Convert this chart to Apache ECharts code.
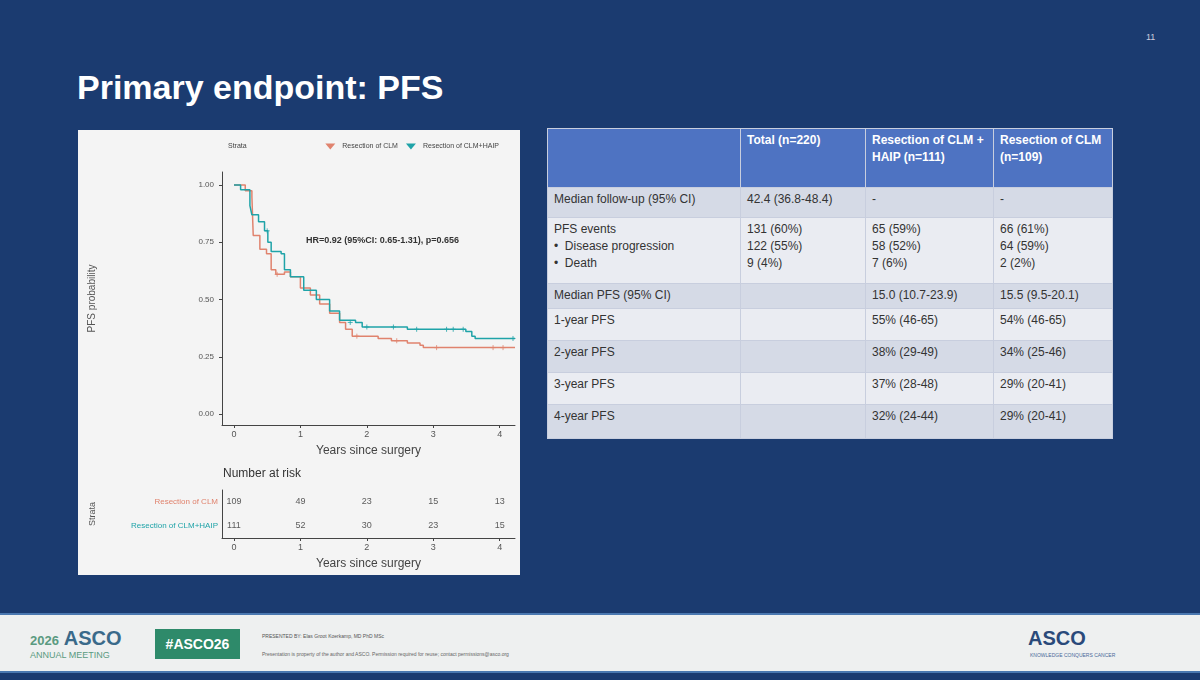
<!DOCTYPE html>
<html><head><meta charset="utf-8">
<script src="https://cdn.jsdelivr.net/npm/echarts@6/dist/echarts.min.js"></script>
<style>
body{margin:0;width:1200px;height:680px;overflow:hidden;background:#1b3b70;font-family:Arial,"Liberation Sans",sans-serif;position:relative}
#title{position:absolute;left:77px;top:68px;color:#fff;font-size:34px;font-weight:bold}
#pg{position:absolute;left:1146px;top:32px;color:#ccd;font-size:9px}
#chart{position:absolute;left:78px;top:130px;width:442px;height:445px;background:#f4f4f4}
table{position:absolute;left:547px;top:128px;border-collapse:collapse;font-size:12px;color:#333;table-layout:fixed;width:565px}
td{border:1px solid #c8cede;padding:3px 6px;vertical-align:top;line-height:17px}
th{background:#4e73c2;color:#fff;text-align:left;font-size:12px;padding:3px 6px;vertical-align:top;border:1px solid #c8cede;line-height:17px}
tr.a td{background:#d5dae6} tr.b td{background:#eaecf2}
#foot{position:absolute;left:0;top:613px;width:1200px;height:56px;background:#eef0f0;border-top:2px solid #4a78b0;border-bottom:2px solid #4a78b0}
</style></head><body>
<div id="title">Primary endpoint: PFS</div>
<div id="pg">11</div>
<div id="chart"></div>
<table>
<colgroup><col style="width:193px"><col style="width:125px"><col style="width:128px"><col style="width:119px"></colgroup>
<tr style="height:59px"><th></th><th>Total (n=220)</th><th>Resection of CLM + HAIP (n=111)</th><th>Resection of CLM (n=109)</th></tr>
<tr class="a" style="height:30px"><td>Median follow-up (95% CI)</td><td>42.4 (36.8-48.4)</td><td>-</td><td>-</td></tr>
<tr class="b" style="height:66px"><td>PFS events<br>•&nbsp; Disease progression<br>•&nbsp; Death</td><td>131 (60%)<br>122 (55%)<br>9 (4%)</td><td>65 (59%)<br>58 (52%)<br>7 (6%)</td><td>66 (61%)<br>64 (59%)<br>2 (2%)</td></tr>
<tr class="a" style="height:25px"><td>Median PFS (95% CI)</td><td></td><td>15.0 (10.7-23.9)</td><td>15.5 (9.5-20.1)</td></tr>
<tr class="b" style="height:32px"><td>1-year PFS</td><td></td><td>55% (46-65)</td><td>54% (46-65)</td></tr>
<tr class="a" style="height:32px"><td>2-year PFS</td><td></td><td>38% (29-49)</td><td>34% (25-46)</td></tr>
<tr class="b" style="height:32px"><td>3-year PFS</td><td></td><td>37% (28-48)</td><td>29% (20-41)</td></tr>
<tr class="a" style="height:34px"><td>4-year PFS</td><td></td><td>32% (24-44)</td><td>29% (20-41)</td></tr>
</table>
<div id="foot">
<div style="position:absolute;left:30px;top:12px;color:#3a6a8a;font-size:20px;font-weight:bold"><span style="font-size:13px;color:#5a9a80">2026</span> ASCO</div>
<div style="position:absolute;left:30px;top:35px;color:#5a9a80;font-size:9px">ANNUAL MEETING</div>
<div style="position:absolute;left:155px;top:14px;width:85px;height:30px;background:#2e8a6a;color:#fff;font-size:14px;font-weight:bold;line-height:30px;text-align:center">#ASCO26</div>
<div style="position:absolute;left:262px;top:18px;color:#555;font-size:5px">PRESENTED BY: Elas Groot Koerkamp, MD PhD MSc</div>
<div style="position:absolute;left:262px;top:36px;color:#666;font-size:5px">Presentation is property of the author and ASCO. Permission required for reuse; contact permissions@asco.org</div>
<div style="position:absolute;left:1028px;top:12px;color:#2a4a7a;font-size:20px;font-weight:bold">ASCO</div>
<div style="position:absolute;left:1030px;top:37px;color:#4a6a9a;font-size:5px">KNOWLEDGE CONQUERS CANCER</div>
</div>
<script>
const clmT=[0,0.17,0.27,0.29,0.39,0.49,0.56,0.63,0.76,0.85,1.0,1.15,1.29,1.44,1.59,1.68,1.78,2.02,2.17,2.37,2.61,2.80,2.85,3.58,4.23];
const clmS=[1,0.975,0.95,0.78,0.72,0.70,0.63,0.61,0.62,0.60,0.55,0.52,0.48,0.44,0.40,0.37,0.34,0.34,0.33,0.32,0.31,0.30,0.29,0.29,0.29];
const haipT=[0,0.10,0.24,0.27,0.37,0.46,0.51,0.56,0.71,0.76,0.85,1.05,1.24,1.44,1.59,1.83,1.93,2.12,2.61,3.49,3.58,3.63,4.23];
const haipS=[1,0.98,0.91,0.87,0.84,0.80,0.75,0.71,0.70,0.63,0.60,0.54,0.50,0.45,0.41,0.40,0.38,0.38,0.37,0.36,0.34,0.33,0.33];
const clmCens=[[0.65,0.61],[1.85,0.34],[2.45,0.32],[3.05,0.29],[3.9,0.29],[4.05,0.29]];
const haipCens=[[0.5,0.80],[1.75,0.40],[2.0,0.38],[2.4,0.38],[2.75,0.37],[3.2,0.37],[3.3,0.37],[3.45,0.37],[4.2,0.33]];
const strata=['Resection of CLM+HAIP','Resection of CLM'];
const riskTimes=[0,1,2,3,4];
const riskCLM=[109,49,23,15,13];
const riskHAIP=[111,52,30,23,15];
const red='#e0836e', teal='#1fa3a8';
const c=echarts.init(document.getElementById('chart'));
const riskData=[];
riskTimes.forEach((t,i)=>{riskData.push([t,1,riskCLM[i]]);riskData.push([t,0,riskHAIP[i]]);});
const xcv=[0,1,2,3,4];
const xa=(gi,name)=>({type:'value',gridIndex:gi,min:-0.18,max:4.23,name:name,nameLocation:'middle',nameGap:20,
 nameTextStyle:{fontSize:12,color:'#444'},axisLine:{show:true,onZero:false,lineStyle:{color:'#444'}},
 axisTick:{show:true,customValues:xcv,length:3},axisLabel:{customValues:xcv,fontSize:9,color:'#555',margin:5},splitLine:{show:false}});
c.setOption({
 animation:false,
 legend:{top:8,right:16,itemWidth:14,itemHeight:6,textStyle:{fontSize:7,color:'#444'},data:[{name:'Resection of CLM',icon:'path://M0,0L10,0L5,6Z'},{name:'Resection of CLM+HAIP',icon:'path://M0,0L10,0L5,6Z'}]},
 graphic:[{type:'text',left:150,top:13,style:{text:'Strata',fontSize:7,fill:'#444'}},
  {type:'text',left:228,top:106,style:{text:'HR=0.92 (95%CI: 0.65-1.31), p=0.656',fontSize:9,fontWeight:'bold',fill:'#333'}},
  {type:'text',left:145,top:338,style:{text:'Number at risk',fontSize:12,fill:'#333'}}],
 grid:[{left:144,right:5,top:42,bottom:150},{left:144,right:5,top:360,height:48}],
 xAxis:[xa(0,'Years since surgery'),xa(1,'Years since surgery')],
 yAxis:[{type:'value',gridIndex:0,min:-0.048,max:1.057,name:'PFS probability',nameLocation:'middle',nameGap:125,
  nameTextStyle:{fontSize:10,color:'#555'},axisLine:{show:true,onZero:false,lineStyle:{color:'#444'}},
  axisTick:{show:true,customValues:[0,0.25,0.5,0.75,1],length:3},
  axisLabel:{customValues:[0,0.25,0.5,0.75,1],fontSize:8,color:'#555',formatter:v=>v.toFixed(2)},splitLine:{show:false}},
  {type:'category',gridIndex:1,data:strata,boundaryGap:true,name:'Strata',nameLocation:'middle',nameGap:125,nameTextStyle:{fontSize:9,color:'#555'},
  axisLine:{onZero:false,lineStyle:{color:'#444'}},axisTick:{length:3},
  axisLabel:{fontSize:8,margin:4,formatter:v=>v===strata[0]?'{t|'+v+'}':'{r|'+v+'}',rich:{t:{color:teal,fontSize:8},r:{color:red,fontSize:8}}}}],
 series:[
  {name:'Resection of CLM',type:'line',step:'end',data:clmT.map((t,i)=>[t,clmS[i]]),symbol:'none',lineStyle:{color:red,width:1.5},itemStyle:{color:red}},
  {name:'Resection of CLM+HAIP',type:'line',step:'end',data:haipT.map((t,i)=>[t,haipS[i]]),symbol:'none',lineStyle:{color:teal,width:1.5},itemStyle:{color:teal}},
  {type:'scatter',data:clmCens,symbol:'path://M0,0L0,10M-5,5L5,5',symbolSize:5,itemStyle:{color:'none',borderColor:red,borderWidth:1}},
  {type:'scatter',data:haipCens,symbol:'path://M0,0L0,10M-5,5L5,5',symbolSize:5,itemStyle:{color:'none',borderColor:teal,borderWidth:1}},
  {type:'scatter',xAxisIndex:1,yAxisIndex:1,data:riskData,symbolSize:0,label:{show:true,position:'inside',formatter:p=>p.value[2],fontSize:9,color:'#333'}}
 ]
});
</script></body></html>
